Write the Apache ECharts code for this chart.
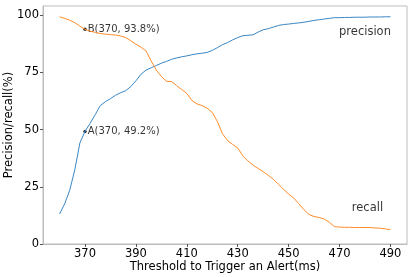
<!DOCTYPE html>
<html>
<head>
<meta charset="utf-8">
<script src="https://cdn.jsdelivr.net/npm/echarts@6/dist/echarts.min.js"></script>
<style>html,body{margin:0;padding:0;background:#fff}#c{width:415px;height:277px}</style>
</head>
<body>
<div id="c"></div>
<script>
const thresholds = [];
for (let t = 360; t <= 490; t += 2) thresholds.push(t);
const precision = [13.1,17.5,23.5,32.5,44.2,49.2,52.7,56.5,60.5,62.2,63.5,65.0,66.1,67.0,68.8,71.3,74.2,76.0,77.0,78.0,79.0,79.8,80.7,81.3,81.8,82.2,82.7,83.1,83.4,83.7,84.6,85.8,87.1,88.0,89.2,90.2,91.0,91.2,91.4,92.6,93.6,94.1,94.8,95.5,95.9,96.1,96.4,96.6,96.9,97.3,97.7,98.0,98.3,98.6,98.9,98.9,99.0,99.0,99.1,99.1,99.1,99.2,99.2,99.2,99.3,99.3];
const recall = [99.3,98.6,97.8,96.7,95.2,93.8,93.0,92.5,92.0,91.7,91.5,91.3,90.9,90.2,88.8,87.3,86.0,84.3,80.0,76.0,73.2,71.1,71.0,69.2,67.5,65.8,62.7,61.2,60.5,59.3,57.5,53.5,48.2,45.2,43.5,42.0,38.5,36.3,34.5,33.0,31.6,30.0,28.3,26.1,23.9,21.8,20.1,17.6,15.0,12.9,12.0,11.6,10.9,9.5,7.6,7.4,7.3,7.3,7.2,7.2,7.2,7.2,7.0,6.9,6.6,6.3];
const xTicks = [370,390,410,430,450,470,490];
const yTicks = [0,25,50,75,100];
const annotations = [
  {name:'A(370, 49.2%)', x:370, y:49.2},
  {name:'B(370, 93.8%)', x:370, y:93.8}
];
const seriesLabels = [
  {name:'precision', x:470, y:90},
  {name:'recall', x:475, y:13}
];

const font = 'DejaVu Sans';
const chart = echarts.init(document.getElementById('c'), null, {renderer:'canvas'});
chart.setOption({
  animation:false,
  backgroundColor:'#fff',
  grid:{left:43, right:8, top:6, bottom:33, show:true, borderColor:'#bcbcbc', borderWidth:1, containLabel:false, outerBoundsMode:'none'},
  xAxis:{
    type:'value', min:353.5, max:496.5,
    name:'Threshold to Trigger an Alert(ms)', nameLocation:'middle', nameGap:17, nameMoveOverlap:false,
    nameTextStyle:{fontFamily:font, fontSize:11.5, color:'#000'},
    axisLine:{show:true, lineStyle:{color:'#bcbcbc'}},
    axisTick:{show:true, length:3, customValues:xTicks, lineStyle:{color:'#555'}},
    axisLabel:{customValues:xTicks, fontFamily:font, fontSize:11.5, color:'#000', margin:4},
    splitLine:{show:false}
  },
  yAxis:{
    type:'value', min:0, max:104,
    name:'Precision/recall(%)', nameLocation:'middle', nameGap:28, nameRotate:90, nameMoveOverlap:false,
    nameTextStyle:{fontFamily:font, fontSize:11.5, color:'#000'},
    axisLine:{show:true, lineStyle:{color:'#bcbcbc'}},
    axisTick:{show:true, length:3, customValues:yTicks, lineStyle:{color:'#555'}},
    axisLabel:{customValues:yTicks, fontFamily:font, fontSize:11.5, color:'#000', margin:4},
    splitLine:{show:false}
  },
  series:[
    {type:'line', name:'precision', data:thresholds.map((t,i)=>[t,precision[i]]), showSymbol:false,
     lineStyle:{color:'#3a87c4', width:1}, itemStyle:{color:'#3a87c4'}},
    {type:'line', name:'recall', data:thresholds.map((t,i)=>[t,recall[i]]), showSymbol:false,
     lineStyle:{color:'#ff8c2a', width:1}, itemStyle:{color:'#ff8c2a'}},
    {type:'scatter', data:annotations.map(a=>({name:a.name, value:[a.x,a.y]})), symbolSize:3.5,
     itemStyle:{color:'#000'},
     label:{show:true, position:'right', distance:1, formatter:'{b}', fontFamily:font, fontSize:10, color:'#000'}},
    {type:'scatter', data:seriesLabels.map(a=>({name:a.name, value:[a.x,a.y]})), symbolSize:1,
     itemStyle:{color:'transparent'},
     label:{show:true, position:[0,0], align:'left', verticalAlign:'bottom', formatter:'{b}', fontFamily:font, fontSize:11.5, color:'#000'}}
  ]
});
</script>
</body>
</html>
